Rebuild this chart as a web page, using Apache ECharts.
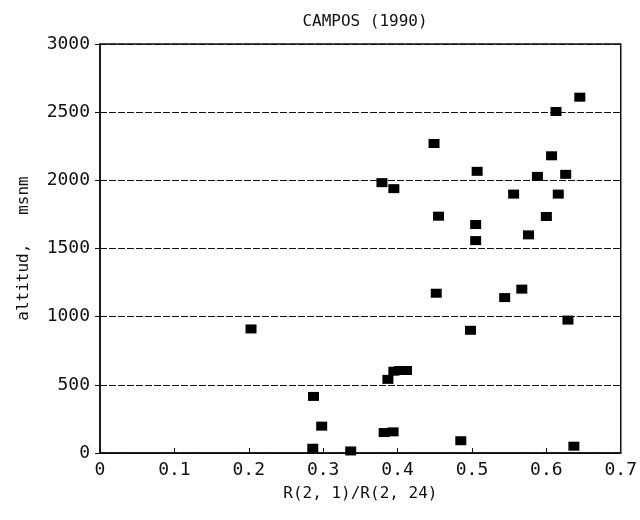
<!DOCTYPE html>
<html>
<head>
<meta charset="utf-8">
<script src="https://cdn.jsdelivr.net/npm/echarts@6/dist/echarts.min.js"></script>
<style>html,body{margin:0;padding:0;background:#fff}#c{width:640px;height:520px}</style>
</head>
<body>
<div id="c"></div>
<script>
const ratio = [0.645, 0.613, 0.449, 0.607, 0.507, 0.626, 0.588, 0.379, 0.395, 0.556, 0.616, 0.455, 0.600, 0.505, 0.576, 0.505, 0.567, 0.452, 0.544, 0.629, 0.203, 0.498, 0.395, 0.403, 0.412, 0.387, 0.287, 0.298, 0.382, 0.394, 0.485, 0.637, 0.286, 0.337];
const altitude = [2610, 2505, 2270, 2180, 2066, 2044, 2029, 1983, 1939, 1899, 1899, 1737, 1735, 1676, 1600, 1558, 1202, 1172, 1140, 975, 910, 900, 600, 605, 605, 540, 415, 197, 150, 155, 90, 50, 35, 15];
const xTicks = [0, 0.1, 0.2, 0.3, 0.4, 0.5, 0.6, 0.7];
const yTicks = [0, 500, 1000, 1500, 2000, 2500, 3000];

const chart = echarts.init(document.getElementById('c'));
const font = "'DejaVu Sans Mono', 'Liberation Mono', monospace";
chart.setOption({
  animation: false,
  backgroundColor: '#fff',
  title: {
    text: 'CAMPOS (1990)', left: 360, top: 9, textAlign: 'center',
    textStyle: {fontFamily: font, fontSize: 16, fontWeight: 'normal', color: '#111'}
  },
  grid: {left: 100, right: 19, top: 44, bottom: 67, show: true, borderColor: '#111', borderWidth: 1.5},
  xAxis: {
    type: 'value', min: 0, max: 0.7, interval: 0.1,
    name: 'R(2, 1)/R(2, 24)', nameLocation: 'middle', nameGap: 33,
    nameTextStyle: {fontFamily: font, fontSize: 16, color: '#111'},
    axisLine: {show: true, lineStyle: {color: '#111', width: 1.5}},
    axisTick: {show: true, inside: true, length: 5, lineStyle: {color: '#111'}},
    axisLabel: {fontFamily: font, fontSize: 18, color: '#111', margin: 8,
      formatter: v => { const t = xTicks.find(x => Math.abs(x - v) < 1e-9); return t === undefined ? '' : String(t); }},
    splitLine: {show: false}
  },
  yAxis: {
    type: 'value', min: 0, max: 3000, interval: 500,
    name: 'altitud,   msnm', nameLocation: 'middle', nameGap: 68,
    nameTextStyle: {fontFamily: font, fontSize: 16, color: '#111'},
    axisLine: {show: true, lineStyle: {color: '#111', width: 1.5}},
    axisTick: {show: true, length: 5, lineStyle: {color: '#111'}},
    axisLabel: {fontFamily: font, fontSize: 18, color: '#111', margin: 10,
      formatter: v => yTicks.includes(v) ? String(v) : ''},
    splitLine: {show: true, lineStyle: {color: '#111', width: 1.2, type: [7, 2]}}
  },
  series: [{
    type: 'scatter',
    data: ratio.map((r, i) => [r, altitude[i]]),
    symbol: 'rect', symbolSize: [11, 9],
    itemStyle: {color: '#000', opacity: 1}
  }]
});
</script>
</body>
</html>
